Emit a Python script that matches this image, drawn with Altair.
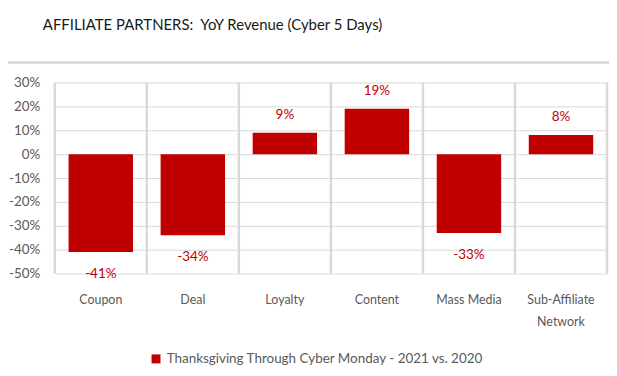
import altair as alt
import pandas as pd

categories = ["Coupon", "Deal", "Loyalty", "Content", "Mass Media", "Sub-Affiliate Network"]
values = [-41, -34, 9, 19, -33, 8]
series_name = "Thanksgiving Through Cyber Monday - 2021 vs. 2020"
y_ticks = [-50, -40, -30, -20, -10, 0, 10, 20, 30]
boundaries = [0, 1, 2, 3, 4, 5, 6]

FONT = "Lato"
RED = "#c00000"
GRAY = "#595959"
GRID = "#d9d9d9"

df = pd.DataFrame({"category": categories, "value": values, "series": series_name})
df["label"] = df["value"].astype(str) + "%"
bdf = pd.DataFrame({"b": boundaries})

xenc = alt.X(
    "category:N", sort=categories,
    scale=alt.Scale(paddingInner=0.3, paddingOuter=0.15),
    axis=alt.Axis(
        title=None, labelAngle=0, domain=False, ticks=False, grid=False,
        labelFont=FONT, labelFontSize=12.5, labelColor=GRAY, labelPadding=20,
        labelLineHeight=22,
        labelExpr="datum.label == 'Sub-Affiliate Network' ? ['Sub-Affiliate', 'Network'] : datum.label",
    ),
)
yscale = alt.Scale(domain=[-50, 30], nice=False)
yaxis = alt.Axis(
    title=None, values=y_ticks, domain=False, ticks=False, labelOverlap=False,
    labelFont=FONT, labelFontSize=13.5, labelColor=GRAY, labelPadding=15,
    labelExpr="datum.value + '%'",
    gridColor=GRID, gridWidth=1,
)
yenc = alt.Y("value:Q", scale=yscale, axis=yaxis)

bars = alt.Chart(df).mark_bar(color=RED).encode(
    x=xenc, y=yenc,
    color=alt.Color(
        "series:N", scale=alt.Scale(range=[RED]),
        legend=alt.Legend(
            title=None, orient="none", legendX=95, legendY=271,
            symbolType="square", symbolSize=81, symbolStrokeWidth=0,
            labelFont=FONT, labelFontSize=13.5, labelColor=GRAY, labelLimit=500,
        ),
    ),
)

pos_labels = alt.Chart(df).transform_filter("datum.value >= 0").mark_text(
    font=FONT, fontSize=13.5, color=RED, baseline="middle", dy=-18
).encode(x=alt.X("category:N", sort=categories), y=alt.Y("value:Q", axis=yaxis), text="label:N")

neg_labels = alt.Chart(df).transform_filter("datum.value < 0").mark_text(
    font=FONT, fontSize=13.5, color=RED, baseline="middle", dy=22
).encode(x=alt.X("category:N", sort=categories), y=alt.Y("value:Q", axis=yaxis), text="label:N")

main = alt.layer(bars, pos_labels, neg_labels)

vlines = alt.Chart(bdf).mark_rule(color=GRID, strokeWidth=2.5).encode(
    x=alt.X("b:Q", scale=alt.Scale(domain=[0, 6], nice=False), axis=None),
    y=alt.value(0), y2=alt.value(192),
)

separator = alt.Chart(bdf).mark_rule(color=GRID, strokeWidth=2).encode(
    x=alt.value(-55), x2=alt.value(560), y=alt.value(-20)
)

chart = alt.layer(vlines, main, separator).resolve_scale(
    x="independent"
).properties(
    width=555, height=192,
    autosize=alt.AutoSizeParams(type="none"),
    padding={"left": 47, "top": 74, "right": 2, "bottom": 94},
    title=alt.TitleParams(
        "AFFILIATE PARTNERS:\u00a0 YoY Revenue (Cyber 5 Days)",
        anchor="start", frame="group", font=FONT, fontSize=15, fontWeight="normal",
        color="#1a1a1a", offset=29, dx=-12,
    ),
).configure_view(stroke=None).configure_axisY(gridColor=GRID, labelOverlap=False)

chart.save("out.html", embed_options={"renderer": "svg", "actions": False})
